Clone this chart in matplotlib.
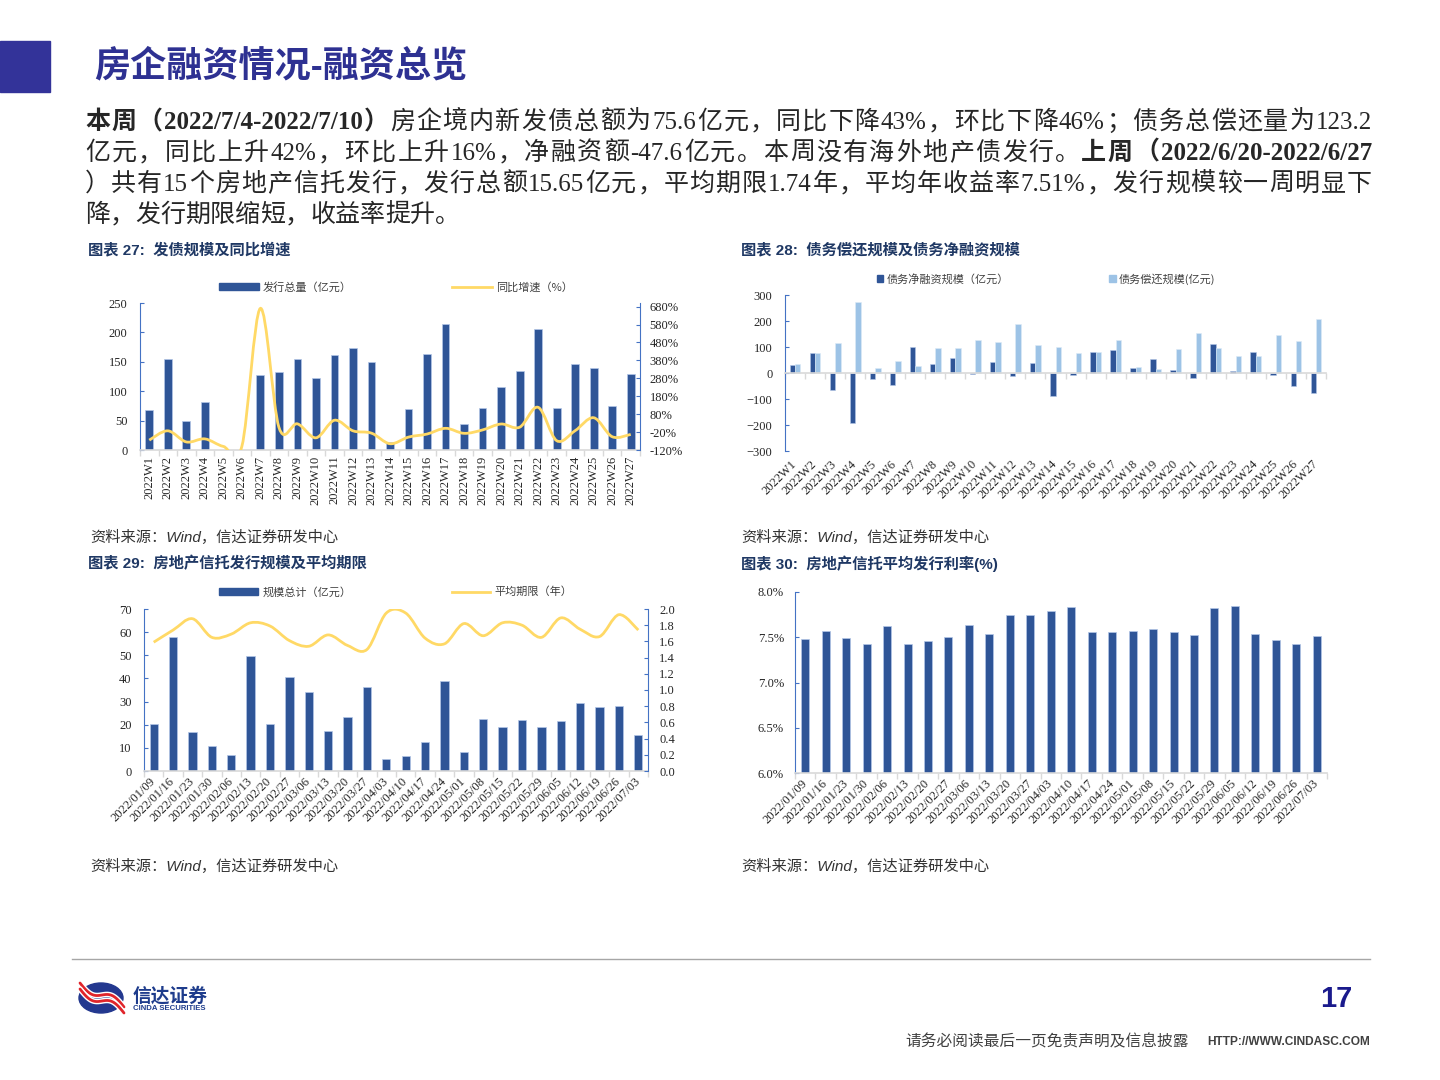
import numpy as np
import matplotlib.pyplot as plt
from matplotlib.path import Path
from matplotlib.patches import PathPatch, Patch, Rectangle, Ellipse
from matplotlib.lines import Line2D

plt.rcParams['font.family'] = ['Liberation Serif', 'Noto Sans CJK SC']

# ---- data ----
weeks = ['2022W%d' % i for i in range(1, 28)]
issue = [68, 155, 50, 82, 0, 0, 127, 133, 154, 123, 161, 174, 149, 13, 69,
         164, 215, 45, 71, 107, 135, 205, 71, 146, 139, 75, 130]
yoy = [-65, -13, -75, -58, -100, -100, 670, 7, 26, -52, 46, -13, -26, -85, -48,
       -31, 1, -27, -8, 25, 7, 118, -68, -12, 60, -46, -33]

net_fin = [31, 78, -67, -193, -22, -48, 100, 35, 57, -4, 41, -13, 39, -89, -9,
           82, 88, 19, 53, 13, -18, 111, 6, 82, -8, -49, -77]
repay = [35, 76, 116, 274, 19, 46, 26, 98, 95, 126, 118, 187, 109, 100, 76,
         82, 127, 23, 17, 93, 153, 95, 64, 64, 147, 122, 206]

dates = ['2022/01/09', '2022/01/16', '2022/01/23', '2022/01/30', '2022/02/06',
         '2022/02/13', '2022/02/20', '2022/02/27', '2022/03/06', '2022/03/13',
         '2022/03/20', '2022/03/27', '2022/04/03', '2022/04/10', '2022/04/17',
         '2022/04/24', '2022/05/01', '2022/05/08', '2022/05/15', '2022/05/22',
         '2022/05/29', '2022/06/05', '2022/06/12', '2022/06/19', '2022/06/26',
         '2022/07/03']
trust = [20.2, 57.9, 16.9, 10.7, 7.1, 49.6, 20.5, 40.5, 34.1, 17.4, 23.3, 36.2,
         5.1, 6.4, 12.7, 38.8, 8.0, 22.4, 18.8, 22.0, 18.8, 21.8, 29.4, 27.6,
         27.9, 15.65]
term = [1.59, 1.74, 1.88, 1.65, 1.69, 1.83, 1.79, 1.61, 1.54, 1.68, 1.55, 1.50,
        1.95, 1.95, 1.64, 1.57, 1.82, 1.67, 1.83, 1.80, 1.65, 1.89, 1.75, 1.66,
        1.93, 1.74]
rate = [7.48, 7.57, 7.49, 7.43, 7.62, 7.43, 7.46, 7.50, 7.63, 7.54, 7.75, 7.75,
        7.79, 7.83, 7.56, 7.56, 7.57, 7.59, 7.56, 7.52, 7.82, 7.84, 7.54, 7.47,
        7.43, 7.51]

DARK = '#2F5597'
LIGHT = '#9DC3E6'
YEL = '#FFD966'
BLUE = '#4472C4'
GRAY = '#D9D9D9'
TXT = '#262626'
NAVY = '#1F3864'
CJK = ['Liberation Sans', 'Noto Sans CJK SC']

W, H = 1440, 1080
fig = plt.figure(figsize=(W / 100, H / 100), dpi=100)

def box(x0, y0, x1, y1):
    return fig.add_axes([x0 / W, 1 - y1 / H, (x1 - x0) / W, (y1 - y0) / H])

def ftxt(x, y, s, **kw):
    return fig.text(x / W, 1 - y / H, s, **kw)

def smooth(ax, x, y, **kw):
    # excel-like smoothed line through the data points (bezier segments)
    pts = np.column_stack([np.asarray(x, float), np.asarray(y, float)])
    n = len(pts)
    verts, codes = [pts[0]], [Path.MOVETO]
    for i in range(n - 1):
        p0, p1 = pts[max(i - 1, 0)], pts[i]
        p2, p3 = pts[i + 1], pts[min(i + 2, n - 1)]
        verts += [p1 + (p2 - p0) / 6, p2 - (p3 - p1) / 6, p2]
        codes += [Path.CURVE4] * 3
    ax.add_patch(PathPatch(Path(verts, codes), fill=False, **kw))

def style(ax, n, labels, rot, ypad):
    ax.set_xlim(-0.5, n - 0.5)
    ax.set_xticks(np.arange(n))
    if rot == 90:
        ax.set_xticklabels(labels, rotation=90)
    else:
        ax.set_xticklabels(labels, rotation=45, ha='right', va='center',
                           rotation_mode='anchor')
    ax.set_xticks(np.arange(n + 1) - 0.5, minor=True)
    ax.tick_params(axis='x', which='major', length=0, labelsize=9,
                   labelcolor=TXT, pad=4)
    ax.tick_params(axis='x', which='minor', length=4, color=GRAY, width=1)
    ax.tick_params(axis='y', direction='in', length=3, color=BLUE,
                   labelsize=9, labelcolor=TXT, pad=ypad)
    for s in ['top', 'right']:
        ax.spines[s].set_visible(False)
    ax.spines['left'].set_color(BLUE)
    ax.spines['bottom'].set_color(GRAY)
    ax.spines['bottom'].set_linewidth(1.2)
    ax.patch.set_alpha(0)

def twin_style(axr, ypad):
    for s in ['top', 'left', 'bottom']:
        axr.spines[s].set_visible(False)
    axr.spines['right'].set_color(BLUE)
    axr.tick_params(axis='y', direction='in', length=3, color=BLUE,
                    labelsize=9, labelcolor=TXT, pad=ypad)

leg_font = dict(family='Noto Sans CJK SC', size=8)

# ---- background / header / footer ----
bg = fig.add_axes([0, 0, 1, 1], zorder=-5)
bg.set_xlim(0, W)
bg.set_ylim(H, 0)
bg.axis('off')
bg.add_patch(Rectangle((0, 41), 50, 51, color='#333399'))
bg.plot([72, 1370], [959, 959], color='#A6A6A6', lw=1)
bg.add_patch(Ellipse((101, 998), 44, 30, color='#23388F'))
for dy, c, lw in [(-3, 'white', 4), (-3, '#E0252B', 2), (3, 'white', 4), (3, '#E0252B', 2)]:
    t = np.linspace(0, 1, 30)
    bg.plot(80 + 44 * t, 986 + dy + 24 * t + 5 * np.sin(2 * np.pi * t),
            color=c, lw=lw, solid_capstyle='round')

ftxt(94, 67, '房企融资情况-融资总览', fontsize=26, fontweight='bold',
     color='#2E3192', family=CJK, va='center')
ftxt(133, 996, '信达证券', fontsize=13.5, fontweight='bold', color='#1E3C8C',
     family=CJK, va='center')
ftxt(133, 1008.5, 'CINDA SECURITIES', fontsize=5.6, fontweight='bold',
     color='#1E3C8C', family='Liberation Sans', va='center')
ftxt(1352, 999, '17', fontsize=21, fontweight='bold', color='#1A1A8C',
     family='Liberation Sans', va='center', ha='right')
ftxt(905, 1042, '请务必阅读最后一页免责声明及信息披露', fontsize=11.3, color='#404040',
     family=CJK, va='center')
ftxt(1370, 1042, 'HTTP://WWW.CINDASC.COM', fontsize=8.6, fontweight='bold',
     color='#404040', family='Liberation Sans', va='center', ha='right')

# ---- paragraph (justified like the slide) ----
para = [
    [('本周（2022/7/4-2022/7/10）', True),
     ('房企境内新发债总额为75.6亿元，同比下降43%，环比下降46%；债务总偿还量为123.2', False)],
    [('亿元，同比上升42%，环比上升16%，净融资额-47.6亿元。本周没有海外地产债发行。', False),
     ('上周（2022/6/20-2022/6/27', True)],
    [('）共有15个房地产信托发行，发行总额15.65亿元，平均期限1.74年，平均年收益率7.51%，发行规模较一周明显下', False)],
    [('降，发行期限缩短，收益率提升。', False)],
]
renderer = fig.canvas.get_renderer()
for k, segs in enumerate(para):
    toks = []
    for s, b in segs:
        buf = ''
        for ch in s:
            if ord(ch) < 128:
                buf += ch
            else:
                if buf:
                    toks.append((buf, b))
                    buf = ''
                toks.append((ch, b))
        if buf:
            toks.append((buf, b))
    y = 129 + 31 * k
    arts = [ftxt(0, y, t, fontsize=18, fontweight='bold' if b else 'normal',
                 color=TXT, va='baseline') for t, b in toks]
    ws = [a.get_window_extent(renderer).width for a in arts]
    gap = (1372 - 85 - sum(ws)) / (len(arts) - 1) if k < 3 else 0
    x = 85
    for a, w in zip(arts, ws):
        a.set_x(x / W)
        x += w + gap

# ---- captions & sources ----
cap = dict(fontsize=11, fontweight='bold', color=NAVY, family=CJK, va='center')
ftxt(88, 250, '图表 27:  发债规模及同比增速', **cap)
ftxt(741, 250, '图表 28:  债务偿还规模及债务净融资规模', **cap)
ftxt(88, 564, '图表 29:  房地产信托发行规模及平均期限', **cap)
ftxt(741, 564, '图表 30:  房地产信托平均发行利率(%)', **cap)
src = dict(fontsize=11, style='italic', color='#333333', family=CJK, va='center')
for sx, sy in [(90, 537), (741, 537), (90, 866), (741, 866)]:
    ftxt(sx, sy, '资料来源：Wind，信达证券研发中心', **src)

# ---- chart 27 ----
x27 = np.arange(len(weeks))
ax1 = box(140, 303, 640, 450)
ax1.bar(x27, issue, width=0.42, color=DARK, edgecolor='#B4C7E7', lw=0.5)
ax1.set_ylim(0, 250)
ax1.set_yticks(range(0, 251, 50))
style(ax1, len(weeks), weeks, 90, 9)
ax1r = ax1.twinx()
ax1r.set_ylim(-120, 700)
ax1r.set_yticks(range(-120, 681, 100))
ax1r.set_yticklabels(['%d%%' % v for v in range(-120, 681, 100)])
smooth(ax1r, x27, yoy, edgecolor=YEL, lw=2)
twin_style(ax1r, 7)
ax1r.legend([Patch(color=DARK), Line2D([], [], color=YEL, lw=2)],
            ['发行总量（亿元）', '同比增速（%）'], loc='center',
            bbox_to_anchor=(396 / W, 1 - 287 / H), bbox_transform=fig.transFigure,
            ncol=2, frameon=False, handlelength=3.6, handleheight=0.5,
            handletextpad=0.4, columnspacing=9, prop=leg_font, labelcolor='#404040')

# ---- chart 28 ----
ax2 = box(785, 295, 1326, 451)
ax2.bar(x27 - 0.135, net_fin, width=0.27, color=DARK, edgecolor='#B4C7E7', lw=0.4)
ax2.bar(x27 + 0.135, repay, width=0.27, color=LIGHT, edgecolor='#DEEBF7', lw=0.4)
ax2.set_ylim(-300, 300)
ax2.set_yticks(range(-300, 301, 100))
style(ax2, len(weeks), weeks, 45, 9)
ax2.spines['bottom'].set_position(('data', 0))
ax2.tick_params(axis='x', which='major', labelbottom=False)
sec = ax2.secondary_xaxis('bottom')
sec.spines['bottom'].set_visible(False)
sec.set_xticks(x27)
sec.set_xticklabels(weeks, rotation=45, ha='right', va='center',
                    rotation_mode='anchor')
sec.tick_params(axis='x', length=0, labelsize=9, labelcolor=TXT, pad=8)
ax2.legend([Patch(color=DARK), Patch(color=LIGHT)],
           ['债务净融资规模（亿元）', '债务偿还规模(亿元)'], loc='center',
           bbox_to_anchor=(1046 / W, 1 - 279 / H), bbox_transform=fig.transFigure,
           ncol=2, frameon=False, handlelength=0.6, handleheight=0.6,
           handletextpad=0.3, columnspacing=9, prop=leg_font, labelcolor='#404040')

# ---- chart 29 ----
x29 = np.arange(len(dates))
ax3 = box(144, 609, 648, 771)
ax3.bar(x29, trust, width=0.43, color=DARK, edgecolor='#B4C7E7', lw=0.5)
ax3.set_ylim(0, 70)
ax3.set_yticks(range(0, 71, 10))
style(ax3, len(dates), dates, 45, 9)
ax3.tick_params(axis='x', which='major', pad=6)
ax3r = ax3.twinx()
ax3r.set_ylim(0, 2.0)
ax3r.set_yticks(np.arange(0, 2.01, 0.2))
ax3r.set_yticklabels(['%.1f' % v for v in np.arange(0, 2.01, 0.2)])
smooth(ax3r, x29, term, edgecolor=YEL, lw=2)
twin_style(ax3r, 8)
ax3r.legend([Patch(color=DARK), Line2D([], [], color=YEL, lw=2)],
            ['规模总计（亿元）', '平均期限（年）'], loc='center',
            bbox_to_anchor=(396 / W, 1 - 592 / H), bbox_transform=fig.transFigure,
            ncol=2, frameon=False, handlelength=3.5, handleheight=0.5,
            handletextpad=0.4, columnspacing=9, prop=leg_font, labelcolor='#404040')

# ---- chart 30 ----
ax4 = box(795, 592, 1327, 773)
ax4.bar(x29, rate, width=0.39, color=DARK, edgecolor='#B4C7E7', lw=0.5)
ax4.set_ylim(6.0, 8.0)
ax4.set_yticks([6.0, 6.5, 7.0, 7.5, 8.0])
ax4.set_yticklabels(['%.1f%%' % v for v in [6.0, 6.5, 7.0, 7.5, 8.0]])
style(ax4, len(dates), dates, 45, 8)
ax4.tick_params(axis='x', which='major', pad=6)

fig.savefig('out.png', dpi=100)
